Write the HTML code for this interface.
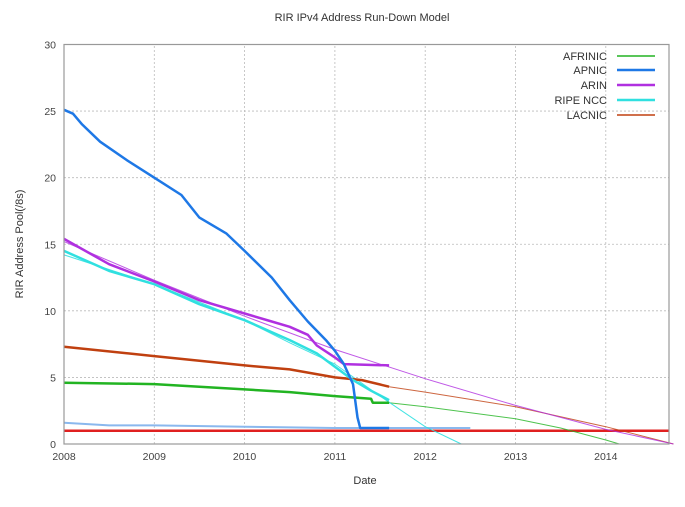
<!DOCTYPE html>
<html><head><meta charset="utf-8">
<style>
html,body{margin:0;padding:0;background:#fff;}
svg{display:block;font-family:"Liberation Sans",sans-serif;}
</style></head>
<body>
<svg id="chart" width="685" height="507" viewBox="0 0 685 507" xmlns="http://www.w3.org/2000/svg">
<text x="362" y="21" font-size="11" fill="#333" text-anchor="middle">RIR IPv4 Address Run-Down Model</text>
<text x="365" y="484" font-size="11" fill="#333" text-anchor="middle">Date</text>
<text transform="translate(23,244) rotate(-90)" font-size="11" fill="#333" text-anchor="middle">RIR Address Pool(/8s)</text>
<g id="grid"></g>
<g id="series"></g>
<rect x="64" y="44.5" width="605" height="399.5" fill="none" stroke="#999" stroke-width="1.2"/>
<g id="ticks"></g>
<g id="legend"></g>
</svg>
<script>
const xTicks = [2008,2009,2010,2011,2012,2013,2014];
const yTicks = [0,5,10,15,20,25,30];
const apnicX = [2008,2008.1,2008.2,2008.4,2008.7,2009,2009.3,2009.5,2009.8,2010,2010.3,2010.5,2010.7,2010.9,2011,2011.1,2011.2,2011.25,2011.28,2011.6];
const apnicY = [25.1,24.8,24,22.7,21.3,20,18.7,17,15.8,14.5,12.5,10.8,9.2,7.8,7,6,4.5,2,1.2,1.2];
const arinX = [2008,2008.5,2009,2009.5,2010,2010.3,2010.5,2010.7,2010.8,2011,2011.1,2011.6];
const arinY = [15.4,13.5,12.2,10.8,9.8,9.2,8.8,8.2,7.4,6.5,6,5.9];
const arinProjX = [2008,2009,2010,2011,2012,2013,2014,2014.75];
const arinProjY = [15.2,12.3,9.6,7.1,4.9,2.9,1.1,0];
const ripeX = [2008,2008.5,2009,2009.5,2010,2010.5,2010.8,2011,2011.2,2011.4,2011.6];
const ripeY = [14.5,13,12,10.5,9.3,7.8,6.8,5.8,4.8,4.0,3.3];
const ripeProjX = [2008,2009,2010,2010.5,2011,2011.5,2012,2012.4];
const ripeProjY = [14.2,12,9.3,7.6,6,3.6,1.3,0];
const lacnicX = [2008,2009,2010,2010.5,2011,2011.3,2011.6];
const lacnicY = [7.3,6.6,5.9,5.6,5.0,4.8,4.3];
const lacnicProjX = [2011.6,2012,2013,2014,2014.75];
const lacnicProjY = [4.3,3.9,2.8,1.3,0];
const afrinicX = [2008,2009,2010,2010.5,2011,2011.4,2011.42,2011.6];
const afrinicY = [4.6,4.5,4.1,3.9,3.6,3.4,3.1,3.1];
const afrinicProjX = [2011.6,2012,2013,2013.5,2014,2014.15];
const afrinicProjY = [3.1,2.8,1.9,1.2,0.3,0];
const poolX = [2008,2008.5,2009,2010,2011,2012,2012.5];
const poolY = [1.6,1.4,1.4,1.3,1.2,1.2,1.2];
const reserveX = [2008,2014.7];
const reserveY = [1,1];
const legendLabels = ["AFRINIC","APNIC","ARIN","RIPE NCC","LACNIC"];
const legendColors = ["#22b422","#1e78e6","#b030e0","#30e0e0","#c04010"];

const NS="http://www.w3.org/2000/svg";
const X0=64,X1=669,XMIN=2008,XMAX=2014.7,Y0=444,Y1=44.5,YMAX=30;
function sx(v){return X0+(v-XMIN)/(XMAX-XMIN)*(X1-X0);}
function sy(v){return Y0-v/YMAX*(Y0-Y1);}
function mk(tag,attrs,parent){const e=document.createElementNS(NS,tag);for(const k in attrs)e.setAttribute(k,attrs[k]);parent.appendChild(e);return e;}
const grid=document.getElementById('grid'),ticks=document.getElementById('ticks'),series=document.getElementById('series'),legend=document.getElementById('legend');
xTicks.forEach(t=>{
  if(t>XMIN){const l=mk('line',{x1:sx(t),x2:sx(t),y1:Y0,y2:Y1,stroke:'#bbb','stroke-dasharray':'2,2','stroke-width':0.8},grid);
  
  }
  const tx=mk('text',{x:sx(t),y:Y0+16,'font-size':10.5,fill:'#444','text-anchor':'middle'},ticks);
  tx.textContent=t;
  
  
});
yTicks.forEach(t=>{
  if(t>0&&t<YMAX){const l=mk('line',{x1:X0,x2:X1,y1:sy(t),y2:sy(t),stroke:'#bbb','stroke-dasharray':'2,2','stroke-width':0.8},grid);
  
  }
  const tx=mk('text',{x:X0-8,y:sy(t)+4,'font-size':10.5,fill:'#444','text-anchor':'end'},ticks);
  tx.textContent=t;
  
  
});
function line(xs,ys,color,w,name,op){
  const d=xs.map((x,i)=>(i?'L':'M')+sx(x).toFixed(1)+','+sy(ys[i]).toFixed(1)).join('');
  const p=mk('path',{d:d,fill:'none',stroke:color,'stroke-width':w,'stroke-linejoin':'round',opacity:op||1},series);
  
  
}
line(poolX,poolY,'#8ab8ee',2,'pool-line');
line(reserveX,reserveY,'#e02020',2.5,'reserve-line');
line(afrinicProjX,afrinicProjY,'#22b422',1,'afrinic-projection',0.8);
line(lacnicProjX,lacnicProjY,'#c04010',1,'lacnic-projection',0.8);
line(arinProjX,arinProjY,'#b030e0',1,'arin-projection',0.8);
line(ripeProjX,ripeProjY,'#30e0e0',1,'ripe-projection',0.9);
line(afrinicX,afrinicY,'#22b422',2.5,'afrinic-line');
line(lacnicX,lacnicY,'#c04010',2.5,'lacnic-line');
line(ripeX,ripeY,'#30e0e0',2.5,'ripe-line');
line(arinX,arinY,'#b030e0',2.5,'arin-line');
line(apnicX,apnicY,'#1e78e6',2.5,'apnic-line');
const ly=[56,70,85,100,115];
legendLabels.forEach((lab,i)=>{
  const t=mk('text',{x:607,y:ly[i]+4,'font-size':11,fill:'#333','text-anchor':'end'},legend);
  t.textContent=lab;
  
  
  const l=mk('line',{x1:617,x2:655,y1:ly[i],y2:ly[i],stroke:legendColors[i],'stroke-width':i==0||i==4?1.5:2.5},legend);
  
  
});
</script>
</body></html>
